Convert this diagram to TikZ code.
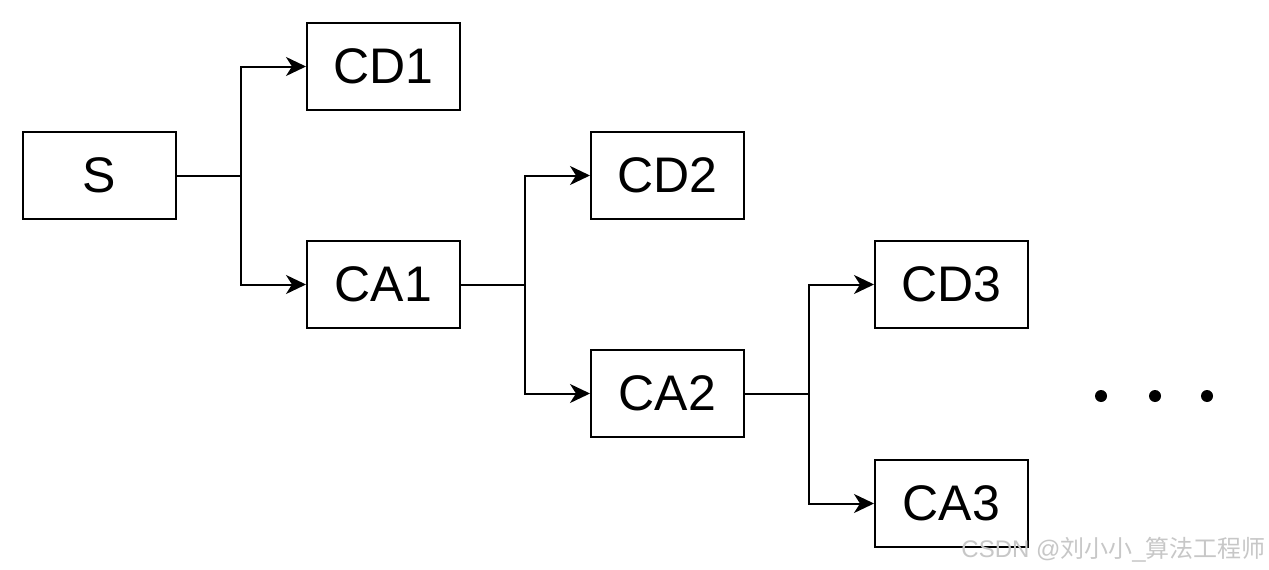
\documentclass[tikz,border=0pt]{standalone}
\usepackage{fontspec}
\setmainfont{Liberation Sans}
\newfontfamily\cjk{Noto Sans CJK SC}
\usetikzlibrary{arrows.meta}
\begin{document}
\begin{tikzpicture}[x=1pt,y=-1pt,
  box/.style={draw=black,line width=2pt,minimum width=153pt,minimum height=87pt,inner sep=0pt,font=\fontsize{50}{54}\selectfont},
  conn/.style={line width=2pt},
  arr/.style={conn,-{Stealth[length=20pt,width=19pt,inset=6pt]}},
  dotn/.style={circle,fill=black,minimum size=12pt,inner sep=0pt}]
\useasboundingbox[fill=white] (0,0) rectangle (1269,570);
\node[box] (S) at (99.5,175.5) {S};
\node[box] (CD1) at (383.5,66.5) {CD1};
\node[box] (CA1) at (383.5,284.5) {CA1};
\node[box] (CD2) at (667.5,175.5) {CD2};
\node[box] (CA2) at (667.5,393.5) {CA2};
\node[box] (CD3) at (951.5,284.5) {CD3};
\node[box] (CA3) at (951.5,503.5) {CA3};
\coordinate (b1) at (241,175.5);
\coordinate (b2) at (525,284.5);
\coordinate (b3) at (809,393.5);
\draw[conn] (S.east) -- (b1);
\draw[arr] (b1) |- (CD1.west);
\draw[arr] (b1) |- (CA1.west);
\draw[conn] (CA1.east) -- (b2);
\draw[arr] (b2) |- (CD2.west);
\draw[arr] (b2) |- (CA2.west);
\draw[conn] (CA2.east) -- (b3);
\draw[arr] (b3) |- (CD3.west);
\draw[arr] (b3) |- (CA3.west);
\node[dotn] (d1) at (1101,396) {};
\node[dotn] (d2) at (1155,396) {};
\node[dotn] (d3) at (1207,396) {};
\node[anchor=base east,text=black!22,inner sep=0pt,font=\fontsize{24}{26}\selectfont] (wm) at (1266,557) {CSDN @{\cjk 刘小小}\_{\cjk 算法工程师}};
\end{tikzpicture}
\end{document}
